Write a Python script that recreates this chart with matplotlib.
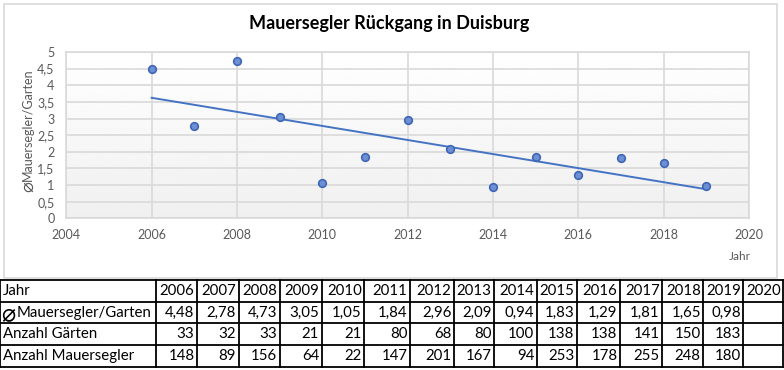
import numpy as np
import matplotlib
matplotlib.use("Agg")
import matplotlib.pyplot as plt

plt.rcParams['font.family'] = ['Lato', 'DejaVu Sans']

# Daten
jahre = [2006, 2007, 2008, 2009, 2010, 2011, 2012, 2013, 2014, 2015, 2016, 2017, 2018, 2019]
pro_garten = [4.48, 2.78, 4.73, 3.05, 1.05, 1.84, 2.96, 2.09, 0.94, 1.83, 1.29, 1.81, 1.65, 0.98]
gaerten = [33, 32, 33, 21, 21, 80, 68, 80, 100, 138, 138, 141, 150, 183]
segler = [148, 89, 156, 64, 22, 147, 201, 167, 94, 253, 178, 255, 248, 180]
tabellen_jahre = jahre + [2020]
schnitt = "\u2300"
zeilen_namen = ["Jahr", "Mauersegler/Garten", "Anzahl Gärten", "Anzahl Mauersegler"]

W, H = 784, 370
fig = plt.figure(figsize=(W / 100, H / 100), dpi=100)

grau = "#595959"
gitter = "#d9d9d9"
blau = "#4472c4"

# Rahmen ums Diagramm + Tabelle (Pixelkoordinaten)
ov = fig.add_axes([0, 0, 1, 1])
ov.set_xlim(0, W)
ov.set_ylim(H, 0)
ov.axis("off")
ov.add_patch(plt.Rectangle((4, 4), 773, 274, fill=False, ec=gitter, lw=1.2))

# Diagramm
ax = fig.add_axes([66.3 / W, 1 - 218.3 / H, (749 - 66.3) / W, (218.3 - 52) / H])
grad = np.linspace(1.0, 0.94, 256).reshape(-1, 1)
ax.imshow(grad, cmap="gray", vmin=0, vmax=1, aspect="auto",
          extent=[2004, 2020, 0, 5], origin="upper", zorder=0)
ax.set_xlim(2004, 2020)
ax.set_ylim(0, 5)
ax.set_xticks(range(2004, 2021, 2))
ax.set_yticks(np.arange(0, 5.01, 0.5))
ax.set_yticklabels([("%g" % v).replace(".", ",") for v in np.arange(0, 5.01, 0.5)])
ax.grid(True, color=gitter, lw=1.2, zorder=1)
for s in ax.spines.values():
    s.set_color(gitter)
    s.set_linewidth(1.2)
ax.tick_params(length=0, colors=grau, labelsize=9)
ax.tick_params(axis="x", pad=8)
ax.tick_params(axis="y", pad=8.5)

ax.scatter(jahre, pro_garten, s=30, c="#6d8fd3", edgecolors="#3f66b5",
           linewidths=1.2, zorder=4)
k, d = np.polyfit(jahre, pro_garten, 1)
xs = np.array([jahre[0], jahre[-1]])
ax.plot(xs, k * xs + d, color=blau, lw=1.4, zorder=3)

fig.text(389 / W, 1 - 24 / H, "Mauersegler Rückgang in Duisburg",
         ha="center", va="center", fontsize=13, fontweight="bold", color="#000000")
# y-Beschriftung: Symbol + Text
ov.text(28.5, 187, schnitt, rotation=90, ha="center", va="center", fontsize=13,
        color=grau, family=["DejaVu Sans"])
ov.text(28, 181, "Mauersegler/Garten", rotation=90, ha="center", va="bottom",
        fontsize=9, color=grau)
fig.text(740 / W, 1 - 257 / H, "Jahr", ha="center", va="center", fontsize=8.5, color=grau)

# Tabelle
spalten = [0, 155.7, 197, 238.7, 279.7, 321.7, 364.3, 410, 454, 494.3,
           536.7, 577, 620, 662.3, 703.3, 743.3, 783.5]
zeilen = [279.5, 301.5, 323, 344.5, 366.5]
for xk in spalten:
    ov.plot([xk, xk], [zeilen[0], zeilen[-1]], color="black", lw=1.3)
for yk in zeilen:
    ov.plot([0, spalten[-1]], [yk, yk], color="black", lw=1.3)

werte = [
    [str(j) for j in tabellen_jahre],
    [("%.2f" % v).replace(".", ",") for v in pro_garten] + [""],
    [str(v) for v in gaerten] + [""],
    [str(v) for v in segler] + [""],
]
for r in range(4):
    yc = (zeilen[r] + zeilen[r + 1]) / 2 + 0.5
    if r == 1:
        ov.text(1, yc + 0.5, schnitt, ha="left", va="center", fontsize=17,
                color="black", family=["DejaVu Sans"])
        ov.text(17, yc, zeilen_namen[r], ha="left", va="center", fontsize=10.8, color="black")
    else:
        ov.text(3, yc, zeilen_namen[r], ha="left", va="center", fontsize=10.8, color="black")
    for c, txt in enumerate(werte[r]):
        ov.text(spalten[c + 2] - 2.5, yc, txt, ha="right", va="center",
                fontsize=10.8, color="black")

fig.savefig("out.png", dpi=100)
